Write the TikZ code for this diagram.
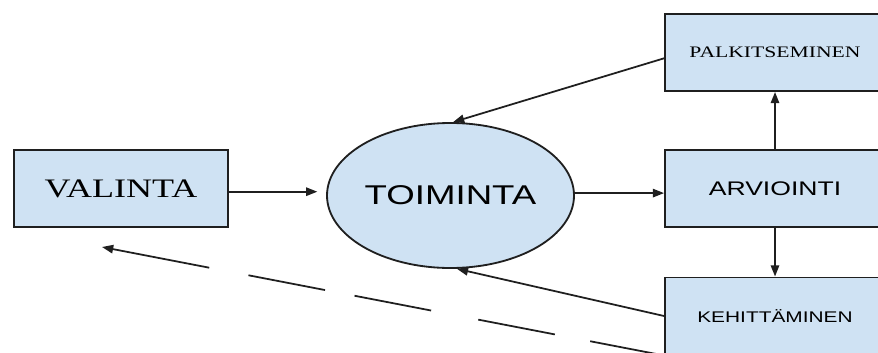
\documentclass[tikz,border=0pt]{standalone}
\usepackage{fontspec}
\newfontfamily\timesfont[FakeStretch=1.35]{Liberation Serif}
\newfontfamily\arialfont[FakeStretch=1.35]{Liberation Sans}
\usetikzlibrary{arrows.meta,shapes.geometric}
\definecolor{boxblue}{HTML}{CFE2F3}
\definecolor{edge}{HTML}{1F1F1F}
\tikzset{
  stage/.style={draw=edge, line width=1.4pt, fill=boxblue, minimum width=5.5cm,
    minimum height=1.925cm, inner sep=0pt},
  hub/.style={ellipse, draw=edge, line width=1.3pt, fill=boxblue, minimum width=6.175cm,
    minimum height=3.625cm, inner sep=0pt},
  flow/.style={-{Triangle[length=2.8mm,width=2.1mm]}, line width=1.25pt, draw=edge},
}

\begin{document}
\begin{tikzpicture}
    \useasboundingbox (0,0) rectangle (21.95,8.8);
    \clip (0,0) rectangle (21.95,8.8);

    % Stages of the cycle
    \node [stage, minimum width=5.35cm] (valinta) at (3.025,4.0875)
        {\timesfont\fontsize{19}{22}\selectfont VALINTA};
    \node [hub] (toiminta) at (11.2625,3.9125)
        {\arialfont\fontsize{19.3}{22}\selectfont TOIMINTA};
    \node [stage] (palkitseminen) at (19.375,7.4875)
        {\timesfont\fontsize{11.4}{14}\selectfont PALKITSEMINEN};
    \node [stage] (arviointi) at (19.375,4.0875)
        {\arialfont\fontsize{14}{17}\selectfont ARVIOINTI};
    \node [stage] (kehittaminen) at (19.375,0.9)
        {\arialfont\fontsize{11}{14}\selectfont KEHITTÄMINEN};

    % End of the return line under VALINTA
    \coordinate (paluu) at (2.55,2.625);

    % Main flow
    \draw [flow, shorten >=0.22cm] ([yshift=-0.08cm]valinta.east)
        -- ([yshift=-0.08cm]valinta.east -| toiminta.west);
    \draw [flow] ([yshift=0.06cm]toiminta.east) -- ([yshift=0.06cm]toiminta.east -| arviointi.west);
    \draw [flow] (arviointi.north) -- (palkitseminen.south);
    \draw [flow] (arviointi.south) -- (kehittaminen.north);

    % Feedback to TOIMINTA
    \draw [flow] (palkitseminen.183) -- (toiminta.88);
    \draw [flow] (kehittaminen.west) -- (toiminta.275);

    % Dashed return
    \draw [flow, dash pattern=on 1.88cm off 0.9cm on 1.95cm off 1.2cm on 1.95cm off 0.75cm
        on 1.95cm off 1cm on 4cm] (kehittaminen.south west) -- (paluu);
\end{tikzpicture}
\end{document}
